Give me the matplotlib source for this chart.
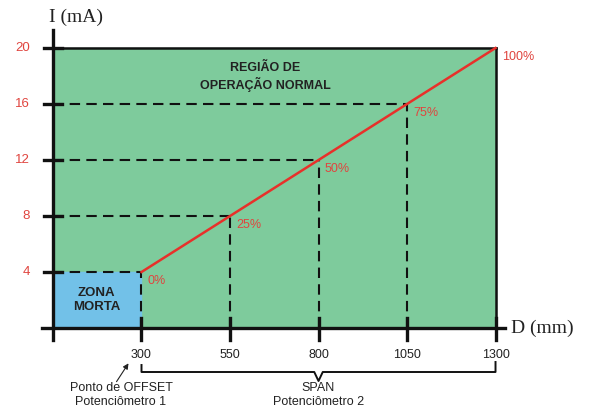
import matplotlib.pyplot as plt
from matplotlib.patches import Rectangle

plt.rcParams['font.family'] = ['Liberation Sans', 'DejaVu Sans']

# data
dist_mm = [300, 550, 800, 1050, 1300]
current_ma = [4, 8, 12, 16, 20]
pct_labels = ['0%', '25%', '50%', '75%', '100%']
y_ticks = [4, 8, 12, 16, 20]
x_left = 50

red = '#e8302a'
lbl_red = '#e0443e'
green = '#7ecb9c'
blue = '#72c1e8'

fig = plt.figure(figsize=(5.94, 4.12), dpi=100)
ax = fig.add_axes([0, 0, 1, 1])
ax.set_xlim(-99.7, 1578.2)
ax.set_ylim(-6.0, 23.43)
ax.axis('off')

# regions
ax.add_patch(Rectangle((x_left, 0), dist_mm[-1] - x_left, current_ma[-1], color=green, zorder=0))
ax.add_patch(Rectangle((x_left, 0), dist_mm[0] - x_left, current_ma[0], color=blue, zorder=1))

# frame top/right
ax.plot([x_left, dist_mm[-1]], [current_ma[-1]] * 2, color='#111', lw=1.8, zorder=3)
ax.plot([dist_mm[-1]] * 2, [0, current_ma[-1]], color='#111', lw=1.8, zorder=3)

# dashed guides
for xv, yv in zip(dist_mm[:-1], current_ma[:-1]):
    ax.plot([x_left, xv], [yv, yv], color='#111', lw=1.5, ls=(0, (5, 3)), zorder=2)
    ax.plot([xv, xv], [0, yv], color='#111', lw=1.5, ls=(0, (5, 3)), zorder=2)

# response line
ax.plot(dist_mm, current_ma, color=red, lw=1.8, zorder=4)
for xv, yv, t in zip(dist_mm, current_ma, pct_labels):
    ax.text(xv + 18, yv - 0.2, t, color=lbl_red, fontsize=9, ha='left', va='top', zorder=5)

# axes
ax.plot([x_left, x_left], [-0.86, 21.3], color='#111', lw=2.4, zorder=5)
ax.plot([19, 1327], [0, 0], color='#111', lw=2.4, zorder=5)
for yv in y_ticks:
    ax.plot([24.6, 75], [yv, yv], color='#111', lw=2.4, zorder=5)
    ax.text(-15, yv, str(yv), color=lbl_red, fontsize=9.5, ha='right', va='center')
for xv in dist_mm:
    ax.plot([xv, xv], [-0.86, 0.7], color='#111', lw=2.4, zorder=5)
    ax.text(xv, -1.9, str(xv), color='#222', fontsize=9, ha='center', va='center')

ax.text(40, 22.2, 'I (mA)', family='Liberation Serif', fontsize=14, ha='left', va='center', color='#222')
ax.text(1345, 0, 'D (mm)', family='Liberation Serif', fontsize=14, ha='left', va='center', color='#222')

ax.text(649, 17.9, 'REGIÃO DE\nOPERAÇÃO NORMAL', fontsize=9, fontweight='bold',
        ha='center', va='center', color='#222', linespacing=1.25)
ax.text(174, 2.0, 'ZONA\nMORTA', fontsize=9.5, fontweight='bold',
        ha='center', va='center', color='#222', linespacing=1.3)

# offset annotation
ax.annotate('', xy=(x_left + (130 - 53) * 2.825, (328 - 361) / 14),
            xytext=(x_left + (115 - 53) * 2.825, (328 - 384) / 14),
            arrowprops=dict(arrowstyle='-|>', color='#222', lw=0.8, mutation_scale=8))
ax.text(x_left + (121 - 53) * 2.825, (328 - 395) / 14, 'Ponto de OFFSET\nPotenciômetro 1',
        fontsize=9, ha='center', va='center', color='#222', linespacing=1.25)

# span bracket
yb = (328 - 372) / 14
ytop_l = (328 - 365) / 14
ytop_r = (328 - 362) / 14
xm = (dist_mm[0] + dist_mm[-1]) / 2
ax.plot([dist_mm[0], dist_mm[0], xm - 12, xm, xm + 12, dist_mm[-1], dist_mm[-1]],
        [ytop_l, yb, yb, (328 - 381) / 14, yb, yb, ytop_r], color='#111', lw=1.4)
ax.text(xm, (328 - 395) / 14, 'SPAN\nPotenciômetro 2',
        fontsize=9, ha='center', va='center', color='#222', linespacing=1.25)

fig.savefig('out.png', dpi=100)
